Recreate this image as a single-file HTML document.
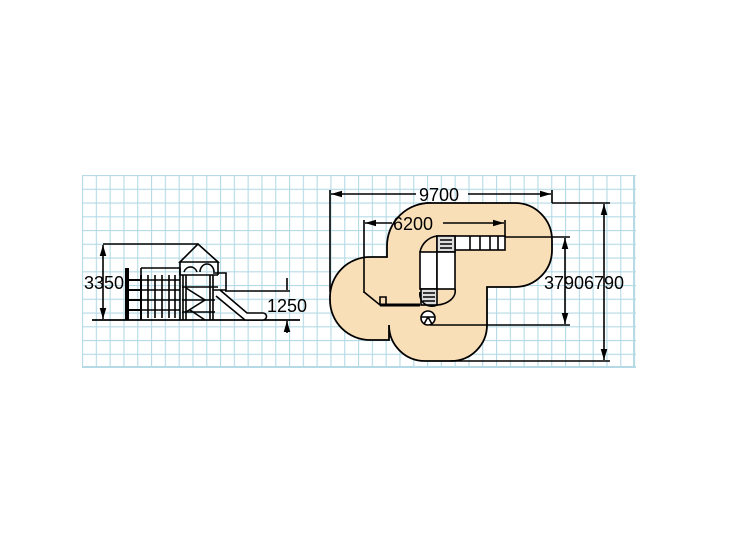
<!DOCTYPE html>
<html><head><meta charset="utf-8"><style>
html,body{margin:0;padding:0;background:#fff;}
svg{display:block}
text{font-family:"Liberation Sans",sans-serif;font-size:18px;fill:#000}
</style></head><body>
<svg width="744" height="558" viewBox="0 0 744 558">
<defs>
<pattern id="g" x="82" y="175" width="13.8" height="13.75" patternUnits="userSpaceOnUse">
<rect width="13.8" height="13.75" fill="#fff"/>
<path d="M0 0V13.75M0 0H13.8" stroke="#b5dae6" stroke-width="2.2" fill="none"/>
</pattern>
<marker id="a" viewBox="0 0 10 10" refX="10" refY="5" markerWidth="7" markerHeight="7" orient="auto-start-reverse"><path d="M0 2L10 5L0 8z" fill="#000"/></marker>
</defs>
<rect x="82" y="175" width="554" height="193" fill="url(#g)"/>
<path d="M634 175V368M82 367H636" stroke="#b5dae6" stroke-width="2"/>

<path d="M432 203H515A37 37 0 0 1 552 240V250A37 37 0 0 1 515 287H487V325A36 36 0 0 1 451 361H425A36 36 0 0 1 389 325V340H370A40 40 0 0 1 330 300V297A40 40 0 0 1 370 257H387V246A43 43 0 0 1 432 203Z" fill="#f9dfb8" stroke="#000" stroke-width="1.8"/>

<g stroke="#000" fill="none" stroke-width="1.6">
<path d="M330 190V292M552 190V203"/>
<path d="M331 194H416M468 194H551" marker-start="url(#a)" marker-end="url(#a)"/>
<path d="M364 220V293M505 220V237"/>
<path d="M365 223H392M443 223H504" marker-start="url(#a)" marker-end="url(#a)"/>
<path d="M505 237H570M430 325H570"/>
<path d="M565 238V324" marker-start="url(#a)" marker-end="url(#a)"/>
<path d="M552 203H610M450 361H610"/>
<path d="M604 204V360" marker-start="url(#a)" marker-end="url(#a)"/>
<path d="M364 292L380 305H420" stroke-width="1.6"/>
<path d="M380 305V297H386V305"/>
<path d="M380 305H420" stroke-width="3"/>
<rect x="437" y="236" width="68" height="14" fill="#fff"/>
<path d="M455 236V250M470 236V250M480 236V250M490 236V250M498 236V250"/>
<rect x="437" y="236" width="18" height="16" fill="#ddd"/>
<path d="M440 240H452M440 244H452M440 248H452"/>
<rect x="420" y="252" width="17" height="37" fill="#fff"/>
<rect x="437" y="252" width="18" height="37" fill="#fff"/>
<rect x="421" y="289" width="16" height="16" fill="#ddd"/>
<path d="M423 293H435M423 297H435M423 301H435"/>
<path d="M437 236A20 20 0 0 0 420 252M420 292A12 12 0 0 0 437 305M437 305A20 14 0 0 0 455 289"/>
<circle cx="428" cy="318" r="7" fill="#fff"/>
<path d="M421 317H435M428 317L424 324M428 317L432 324"/>
</g>
<text x="419" y="201">9700</text>
<text x="393" y="230">6200</text>
<text x="544" y="289">3790</text>
<text x="584" y="289">6790</text>

<g stroke="#000" fill="none" stroke-width="1.6">
<path d="M92 320H300" stroke-width="1.8"/>
<path d="M103 244H198"/>
<path d="M103 245V319" marker-start="url(#a)" marker-end="url(#a)"/>
<path d="M225 291H290"/>
<path d="M287 278V290M287 333V321" marker-end="url(#a)"/>
<path d="M126 268V320M128 268V320M141 275V320M126 280H141M126 290H141M126 300H141M126 310H141" stroke-width="2"/>
<path d="M141 268H180M141 268V320M180 268V320M148 275V318M155 275V318M162 275V318M169 275V318M175 275V318M142 280H180M142 290H180M142 300H180M142 310H180"/>
<path d="M180 262L198 244L218 262Z M180 262V275M218 262V275"/>
<path d="M184 272A7 8 0 0 1 197 272M200 272A7 8 0 0 1 214 272"/>
<path d="M183 275V320M186 275V320M210 275V320M213 275V320M180 275H218M182 287H218M182 300H215M182 312H215"/>
<path d="M186 288L205 300L186 312M190 310L205 320"/>
<path d="M213 273H226V290H213"/>
<path d="M220 290L247 313H263A3 3 0 0 1 263 320H245L216 296" fill="#fff"/>
</g>
<text x="84" y="289">3350</text>
<text x="267" y="312">1250</text>
</svg>
</body></html>
